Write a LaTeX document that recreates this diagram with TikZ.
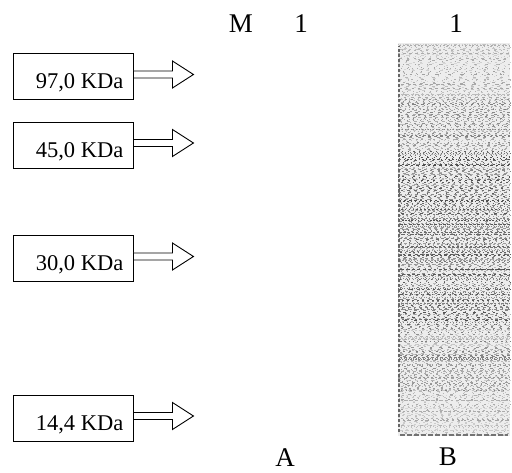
\documentclass[tikz,border=0pt]{standalone}
\usepackage{fontspec}
\setmainfont{Liberation Serif}
\usetikzlibrary{calc,positioning}

\begin{document}
\begin{tikzpicture}[
    x=1pt, y=1pt,
    marker/.style={draw=black, line width=0.9pt, minimum width=120pt, minimum height=46pt, inner sep=0pt},
    kda/.style={font=\fontsize{22.5}{25}\selectfont, inner sep=0pt},
    lanelabel/.style={font=\fontsize{27}{30}\selectfont, inner sep=0pt},
    pointer/.style={draw=black, line width=0.9pt, fill=white, line join=miter},
]
\useasboundingbox (0,0) rectangle (512,472);

% ---------------------------------------------------------
% Molecular weight markers
% ---------------------------------------------------------
\node[marker] (m97) at (73,395.5) {};
\node[marker] (m45) at (73,327) {};
\node[marker] (m30) at (73,213.5) {};
\node[marker] (m14) at (73,54) {};

\node[kda, anchor=base east] (l97) at ($(m97.south east)+(-10,11)$) {97,0 KDa};
\node[kda, anchor=base east] (l45) at ($(m45.south east)+(-10,11)$) {45,0 KDa};
\node[kda, anchor=base east] (l30) at ($(m30.south east)+(-10,11)$) {30,0 KDa};
\node[kda, anchor=base east] (l14) at ($(m14.south east)+(-10,11)$) {14,4 KDa};

\foreach \m in {m97,m45,m30,m14}
  {\coordinate (\m tip) at ($(\m.east)+(60,2)$);
   \draw[pointer] ($(\m.east)+(0,5.5)$) -- ++(39,0) -- ++(0,10)
     -- (\m tip) -- ++(-21,-13.5) -- ++(0,10) -- ++(-39,0) -- cycle;}

% ---------------------------------------------------------
% Lane titles
% ---------------------------------------------------------
\node[lanelabel] (M)  at (241,448) {M};
\node[lanelabel] (s1) at (301,448) {1};
\node[lanelabel] (s2) at (456,448) {1};
\node[lanelabel] (A)  at (285,14) {A};
\node[lanelabel] (B)  at (448,15) {B};

% ---------------------------------------------------------
% Stained lane (B)
% ---------------------------------------------------------
\pgfmathsetseed{11}
\fill[black!7] (398,36) rectangle (510,429);
\foreach \y in {37,39.5,...,428}
  {\pgfmathsetmacro\dk{(\y>142 && \y<322) ? 44 : ((\y>372 || \y<80) ? 24 : 32)}
   \foreach \k in {1,2,3}
     {\pgfmathsetmacro\on{0.6+2.5*rnd}
      \pgfmathsetmacro\off{(1+6*rnd)*(100-\dk)/45}
      \pgfmathsetmacro\ph{10*rnd}
      \pgfmathsetmacro\gr{\dk*(0.6+1.0*rnd)}
      \draw[black!\gr, line width=1pt, dash pattern=on \on pt off \off pt,
            dash phase=\ph pt] (398,\y+0.8*\k-1.6) -- (510,\y+0.8*\k-1.6);}}
\draw[black!60, line width=1.5pt, dash pattern=on 3pt off 2pt] (399,40) -- (399,426);
\draw[black!55, line width=1.3pt, dash pattern=on 5pt off 2pt] (400,37) -- (508,37);

\end{tikzpicture}
\end{document}
